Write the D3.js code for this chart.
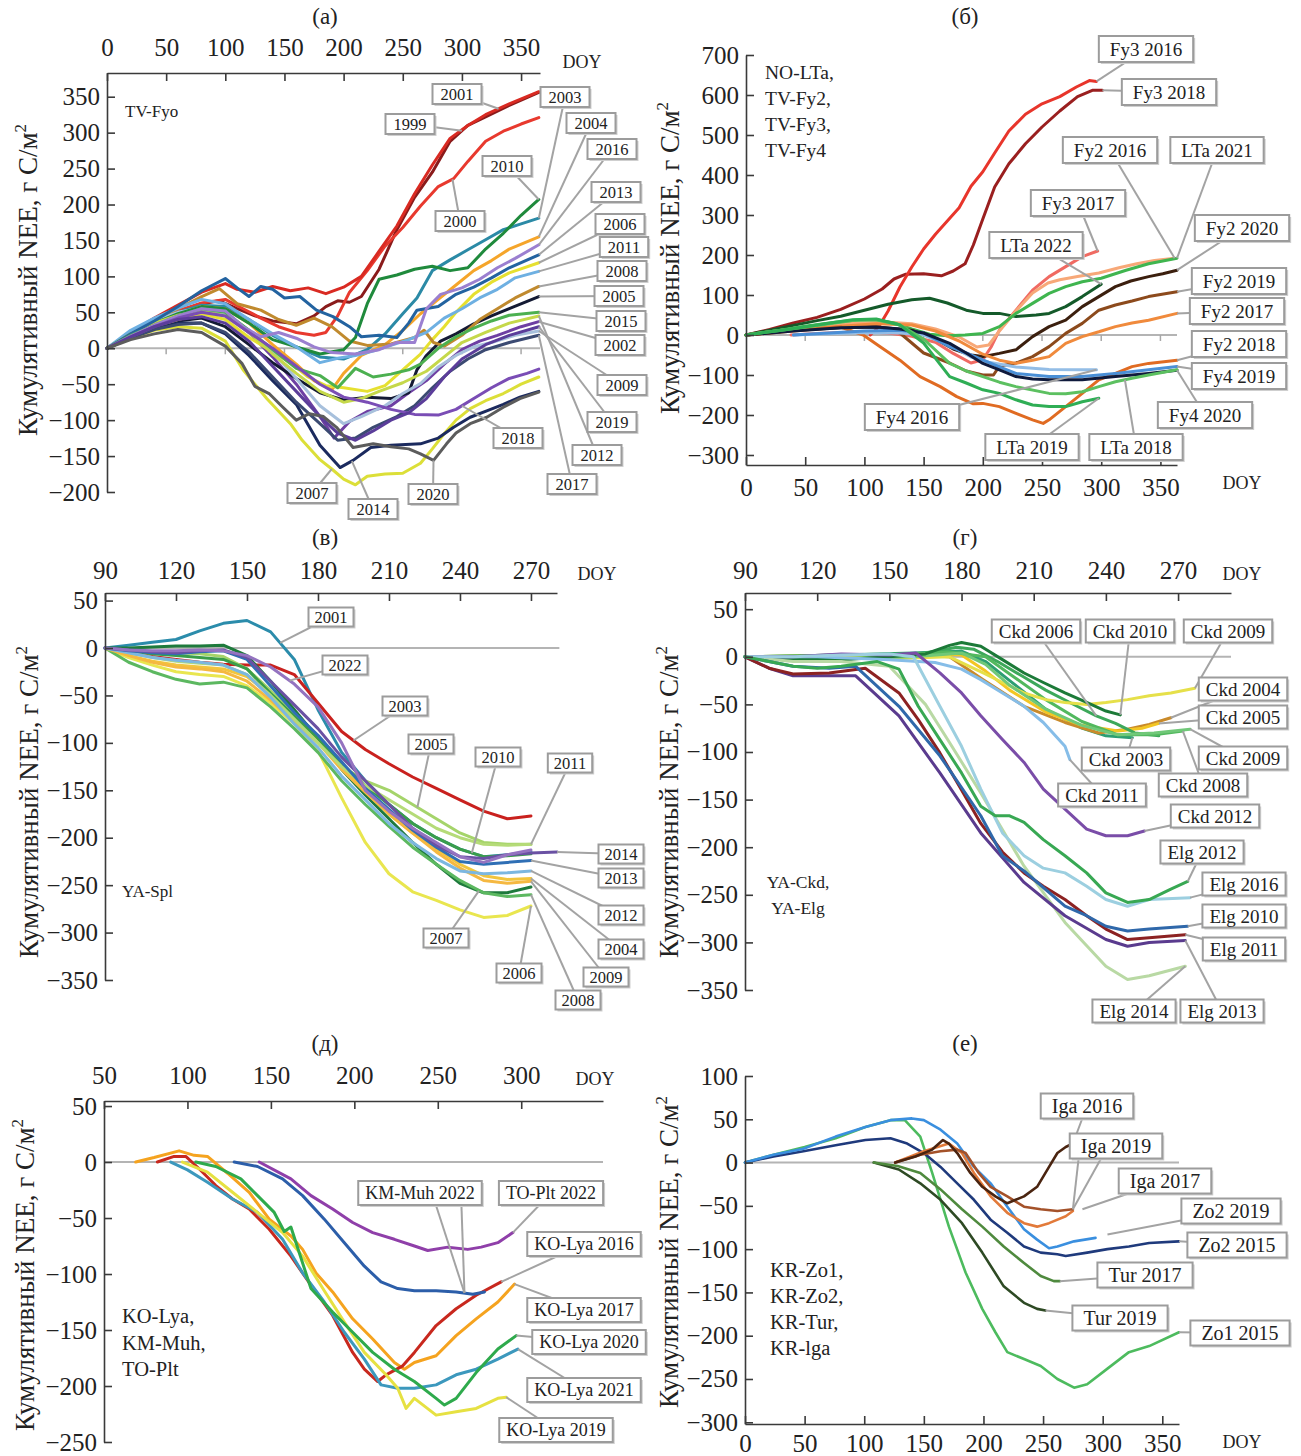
<!DOCTYPE html>
<html>
<head>
<meta charset="utf-8">
<script src="https://cdn.jsdelivr.net/npm/d3@7"></script>
<style>
  body { margin: 0; background: #fff; }
  text { font-family: "Liberation Serif", "Times New Roman", serif; fill: #222; }
</style>
</head>
<body>
<svg id="chart" width="1301" height="1456"></svg>
<script>
// ---------- (а) TV-Fyo : cumulative NEE by year, [DOY, g C/m2] ----------
const fyoYears = ['1999','2000','2001','2002','2003','2004','2005','2006','2007','2008','2009',
                  '2010','2011','2012','2013','2014','2015','2016','2017','2018','2019','2020'];
const fyoColors = ['#8a1b1b','#e8392e','#d92a22','#6e3fa3','#2b8aa6','#f5a52a','#141a33','#e6e030',
                   '#dcdf38','#c08a2e','#a7c0dc','#1f8a3c','#6eb0e2','#c5d84a','#2363a0','#1b2a5e',
                   '#4cb050','#9b7fd0','#3b4a72','#7a4db5','#5b3d9a','#5c5c5c'];
const fyoSeries = [
  [[0,0],[20,20],[40,38],[60,52],[80,62],[95,66],[110,55],[125,45],[140,38],[160,34],[175,45],[185,58],[195,66],[205,64],[215,72],[230,110],[245,165],[260,210],[275,245],[290,288],[305,310],[320,322],[340,338],[365,356]],
  [[0,0],[20,20],[40,37],[60,52],[80,63],[100,68],[115,55],[130,42],[145,30],[160,22],[175,18],[185,22],[195,45],[205,78],[220,108],[235,142],[250,168],[265,198],[280,225],[293,236],[305,260],[320,288],[335,302],[350,312],[365,321]],
  [[0,0],[20,22],[40,42],[60,60],[80,78],[100,90],[110,82],[125,78],[140,86],[155,80],[170,84],[185,76],[200,85],[215,100],[230,135],[245,170],[260,215],[275,255],[290,292],[305,310],[320,325],[340,340],[365,357]],
  [[0,0],[20,17],[40,32],[60,45],[80,55],[100,48],[120,22],[140,-12],[160,-50],[180,-95],[192,-125],[205,-102],[220,-88],[240,-80],[255,-62],[270,-45],[285,-22],[300,-2],[315,10],[330,18],[350,30],[365,37]],
  [[0,0],[20,20],[40,36],[60,50],[80,60],[100,58],[120,40],[140,18],[160,2],[180,-12],[200,-15],[220,-2],[235,20],[250,48],[262,70],[275,108],[290,123],[305,137],[320,151],[335,165],[350,173],[365,181]],
  [[0,0],[20,18],[40,34],[60,48],[80,58],[100,55],[120,35],[140,5],[160,-22],[175,-45],[190,-58],[200,-35],[215,-10],[235,5],[250,25],[265,48],[280,68],[295,88],[310,108],[325,122],[340,138],[365,155]],
  [[0,0],[20,15],[40,28],[60,38],[80,42],[100,30],[120,5],[140,-20],[160,-42],[180,-62],[200,-72],[220,-68],[240,-70],[255,-62],[262,-30],[270,-10],[282,10],[295,20],[310,34],[325,45],[340,55],[365,72]],
  [[0,0],[20,16],[40,30],[60,40],[80,48],[100,40],[120,15],[140,-5],[155,-20],[170,-40],[185,-52],[200,-55],[220,-60],[235,-52],[250,-30],[265,-8],[275,12],[285,30],[295,50],[310,75],[325,92],[340,105],[365,119]],
  [[0,0],[20,14],[40,25],[60,30],[80,28],[100,10],[115,-30],[135,-70],[155,-105],[165,-128],[180,-155],[190,-168],[200,-182],[210,-190],[220,-178],[235,-175],[250,-174],[265,-160],[275,-140],[285,-119],[295,-100],[307,-84],[320,-73],[335,-63],[350,-50],[365,-40]],
  [[0,0],[20,20],[40,38],[60,55],[80,72],[95,83],[110,62],[130,53],[145,40],[160,32],[175,42],[190,30],[205,10],[220,4],[240,6],[260,15],[268,25],[276,8],[285,3],[300,18],[315,40],[330,55],[345,70],[365,86]],
  [[0,0],[20,22],[40,38],[60,50],[80,56],[100,48],[120,25],[140,-5],[160,-42],[180,-80],[200,-105],[215,-95],[235,-80],[250,-63],[265,-49],[280,-26],[295,-10],[310,2],[325,8],[345,18],[365,24]],
  [[0,0],[20,18],[40,35],[60,48],[80,58],[100,55],[120,35],[140,12],[160,2],[180,-8],[200,-2],[210,15],[220,62],[230,96],[245,102],[260,110],[275,114],[290,108],[305,112],[320,138],[335,160],[350,185],[365,207]],
  [[0,0],[20,25],[40,42],[60,56],[80,68],[100,62],[120,40],[140,20],[160,2],[180,-20],[195,-14],[210,-10],[225,-4],[240,4],[255,12],[270,22],[285,42],[300,55],[315,70],[330,82],[345,98],[365,107]],
  [[0,0],[20,20],[40,35],[60,46],[80,52],[100,45],[120,22],[140,-8],[160,-35],[180,-60],[200,-75],[215,-70],[230,-60],[250,-48],[270,-32],[285,-12],[300,8],[320,22],[340,35],[365,45]],
  [[0,0],[20,20],[40,38],[60,58],[80,80],[100,97],[110,84],[120,72],[130,86],[140,82],[150,70],[163,72],[177,53],[191,44],[205,30],[215,16],[230,18],[245,15],[255,35],[262,53],[280,58],[295,75],[310,85],[325,98],[340,112],[365,130]],
  [[0,0],[20,15],[40,27],[60,35],[80,35],[100,20],[120,-10],[140,-45],[160,-78],[180,-135],[197,-166],[208,-156],[223,-138],[240,-135],[265,-133],[280,-125],[293,-110],[307,-96],[321,-87],[335,-78],[349,-68],[365,-60]],
  [[0,0],[20,18],[40,32],[60,45],[80,55],[100,50],[120,25],[140,-2],[160,-28],[180,-38],[195,-55],[210,-28],[225,-40],[240,-36],[255,-30],[265,-22],[280,0],[295,16],[310,28],[325,38],[340,46],[365,50]],
  [[0,0],[20,17],[40,32],[60,45],[80,55],[100,52],[115,30],[130,16],[145,22],[160,14],[175,2],[190,-6],[210,-8],[230,-2],[245,8],[260,8],[270,55],[282,75],[300,84],[315,96],[330,112],[345,125],[365,144]],
  [[0,0],[20,14],[40,26],[60,33],[80,35],[100,22],[120,-5],[140,-40],[160,-75],[180,-105],[195,-128],[210,-125],[225,-110],[245,-95],[260,-80],[275,-55],[290,-32],[305,-15],[320,-2],[340,8],[365,18]],
  [[0,0],[20,16],[40,30],[60,42],[80,50],[100,45],[120,22],[140,0],[160,-25],[180,-50],[200,-68],[220,-75],[240,-85],[260,-92],[280,-93],[295,-85],[310,-70],[325,-55],[340,-42],[355,-35],[365,-29]],
  [[0,0],[20,16],[40,30],[60,40],[80,44],[100,35],[120,10],[140,-25],[160,-60],[180,-95],[195,-118],[210,-128],[225,-115],[240,-100],[255,-90],[270,-70],[285,-40],[300,-15],[320,5],[340,18],[365,30]],
  [[0,0],[20,12],[40,20],[60,26],[80,22],[100,3],[114,-21],[125,-53],[137,-63],[148,-81],[160,-100],[171,-91],[183,-95],[194,-110],[208,-138],[225,-133],[240,-137],[255,-140],[265,-147],[276,-156],[287,-133],[295,-118],[307,-105],[321,-96],[335,-82],[349,-70],[365,-61]]
];

// ---------- (б) NO-LTa, TV-Fy2, TV-Fy3, TV-Fy4 ----------
const fyNames = ['Fy3 2018','Fy3 2016','Fy3 2017','LTa 2022','Fy2 2016','LTa 2021','Fy2 2020','Fy2 2019',
                 'Fy2 2017','Fy2 2018','Fy4 2016','Fy4 2019','Fy4 2020','LTa 2018','LTa 2019'];
const fyColors = ['#9a1f1f','#e8352b','#f06a62','#145a2a','#f7a878','#3fb54f','#3b1f0e','#8c4a1c',
                  '#f08a3c','#e06b22','#93bde6','#4a8fd6','#0f1a3c','#5cc060','#2fae55'];
const fySeries = [
  [[0,0],[20,14],[40,30],[60,44],[80,64],[100,90],[115,115],[125,140],[135,152],[150,153],[165,148],[175,160],[185,178],[192,225],[200,290],[210,370],[222,428],[236,478],[250,520],[265,560],[280,596],[293,612],[301,612]],
  [[105,0],[112,20],[120,60],[130,120],[140,170],[150,215],[160,252],[170,285],[180,318],[190,372],[200,408],[210,455],[222,510],[236,552],[250,578],[265,596],[279,620],[290,636],[296,634]],
  [[38,0],[60,4],[80,6],[100,8],[120,5],[140,-3],[160,-18],[175,-46],[190,-70],[200,-62],[207,-30],[214,12],[228,62],[242,112],[256,146],[270,171],[284,196],[297,210]],
  [[0,0],[20,12],[40,24],[60,36],[80,47],[100,62],[120,77],[140,88],[155,92],[170,80],[186,62],[200,54],[214,54],[228,46],[245,50],[256,54],[270,71],[284,96],[300,127]],
  [[0,0],[30,12],[60,22],[90,30],[120,32],[140,28],[160,15],[180,-5],[195,-30],[205,-25],[214,10],[228,60],[242,105],[255,130],[265,138],[280,146],[298,155],[315,168],[330,178],[345,186],[362,192]],
  [[0,0],[25,10],[50,22],[75,32],[95,38],[110,38],[125,30],[140,15],[155,2],[170,-2],[185,0],[200,4],[214,21],[228,54],[242,79],[256,104],[270,121],[284,133],[300,142],[321,162],[340,178],[364,192]],
  [[0,0],[40,12],[80,18],[110,20],[140,12],[160,-10],[175,-35],[190,-50],[200,-54],[214,-46],[228,-37],[242,-4],[256,21],[270,37],[284,71],[298,96],[312,121],[325,135],[340,146],[352,153],[364,162]],
  [[0,0],[40,12],[80,20],[110,22],[130,5],[150,-45],[172,-70],[186,-90],[200,-100],[209,-100],[214,-78],[228,-70],[242,-54],[256,-29],[270,4],[284,29],[298,62],[312,75],[326,85],[340,96],[364,108]],
  [[0,0],[40,12],[80,22],[110,28],[140,25],[160,10],[180,-15],[200,-48],[214,-63],[228,-71],[242,-63],[256,-54],[270,-21],[284,-4],[298,8],[312,21],[326,30],[340,37],[364,54]],
  [[0,0],[40,10],[80,20],[99,0],[113,-29],[130,-63],[147,-104],[164,-129],[178,-154],[192,-172],[200,-171],[214,-179],[228,-196],[242,-212],[251,-221],[256,-212],[270,-179],[284,-146],[298,-112],[312,-96],[326,-79],[340,-71],[364,-63]],
  [[40,0],[70,3],[100,6],[130,5],[150,0],[172,-25],[190,-55],[205,-68],[228,-80],[256,-86],[280,-87],[296,-87]],
  [[40,0],[70,5],[100,10],[130,12],[150,5],[172,-29],[186,-45],[200,-62],[214,-80],[228,-96],[256,-104],[284,-104],[312,-96],[340,-87],[364,-79]],
  [[0,0],[40,10],[80,18],[110,20],[130,15],[150,5],[172,-21],[186,-45],[200,-71],[214,-87],[228,-104],[242,-110],[256,-112],[284,-112],[312,-104],[340,-96],[364,-88]],
  [[0,0],[30,12],[60,24],[90,36],[110,38],[130,25],[150,-10],[172,-71],[186,-90],[200,-104],[214,-118],[228,-129],[256,-146],[270,-147],[284,-142],[298,-129],[312,-117],[326,-108],[340,-100],[364,-87]],
  [[0,0],[30,12],[60,25],[90,38],[110,40],[130,25],[150,-20],[172,-104],[186,-120],[200,-137],[214,-146],[228,-162],[242,-175],[256,-179],[270,-179],[284,-167],[298,-158]]
];

// ---------- (в) YA-Spl ----------
const splYears = ['2001','2003','2004','2005','2006','2007','2008','2009','2010','2011','2012','2013','2014','2022'];
const splColors = ['#2b8cab','#c9211e','#f2c53d','#a5d46a','#e9e64f','#1e7a3c','#5cb860','#f5b841',
                   '#3a9d4a','#b5db78','#7cb7e0','#2f6fb5','#6a51a3','#9473c0'];
const splDoy = [90,100,110,120,130,140,150,160,170,180,190,200,210,220,230,240,250,260,270];
const splNee = [
  [0,3,6,9,18,26,29,17,-12,-65,-110,-140,-165,-185,-200,-212,-220,-218,-215],
  [0,-5,-9,-12,-15,-17,-18,-18,-28,-58,-88,-107,-122,-136,-148,-160,-172,-180,-177],
  [0,-8,-14,-18,-20,-22,-30,-50,-72,-98,-125,-150,-175,-195,-212,-228,-240,-244,-243],
  [0,-2,-4,-5,-6,-9,-22,-45,-70,-95,-125,-140,-150,-165,-180,-195,-205,-207,-207],
  [0,-10,-18,-25,-28,-30,-40,-58,-80,-108,-158,-205,-238,-257,-266,-276,-284,-282,-272],
  [0,0,1,2,2,3,-8,-35,-65,-95,-128,-155,-180,-205,-228,-248,-258,-258,-252],
  [0,-15,-25,-33,-38,-36,-42,-62,-85,-110,-140,-165,-188,-210,-228,-245,-258,-262,-260],
  [0,-8,-15,-20,-22,-25,-35,-55,-78,-100,-128,-152,-175,-195,-215,-232,-245,-248,-246],
  [0,-3,-6,-8,-10,-12,-22,-48,-72,-95,-122,-145,-165,-185,-200,-212,-220,-219,-217],
  [0,-5,-10,-14,-16,-18,-28,-50,-75,-100,-125,-145,-160,-175,-190,-200,-207,-208,-207],
  [0,-5,-10,-13,-15,-18,-28,-52,-80,-105,-135,-160,-185,-205,-222,-235,-238,-237,-235],
  [0,-3,-5,-6,-4,-3,-12,-40,-68,-92,-120,-148,-170,-192,-210,-225,-228,-226,-224],
  [0,-2,-4,-5,-3,-2,-10,-35,-60,-85,-115,-140,-165,-190,-208,-220,-222,-218,-216],
  [0,-2,-3,-3,-2,-3,-8,-20,-38,-62,-100,-150,-172,-190,-205,-220,-226,-218,-213]
];
const splTail2014 = [281, -215];   // the 2014 record runs past DOY 270

// ---------- (г) YA-Ckd, YA-Elg ----------
const ckdNames = ['Ckd 2003','Ckd 2004','Ckd 2005','Ckd 2006','Ckd 2008','Ckd 2009','Ckd 2009','Ckd 2010',
                  'Ckd 2011','Ckd 2012','Elg 2014','Elg 2013','Elg 2011','Elg 2010','Elg 2016','Elg 2012'];
const ckdColors = ['#2d9e72','#c98a2a','#f3c623','#3da85a','#52b85e','#e6e04a','#70c878','#1c7a38',
                   '#86bde8','#7a4da8','#b9d9a4','#5a3b8e','#8c2222','#2f68aa','#9ccfe0','#38a853'];
const ckdSeries = [
  [[90,0],[130,2],[160,4],[180,6],[190,-5],[200,-25],[215,-55],[230,-75],[240,-83],[251,-85]],
  [[90,0],[130,0],[160,2],[175,0],[189,-24],[206,-52],[223,-69],[237,-80],[249,-76],[258,-71],[267,-64]],
  [[90,0],[140,2],[170,3],[180,2],[190,-15],[200,-35],[215,-58],[230,-72],[245,-78],[255,-75],[262,-70]],
  [[90,0],[110,-3],[130,0],[150,2],[165,4],[178,10],[185,8],[195,-5],[205,-20],[215,-35],[225,-48],[236,-62],[244,-70],[252,-80],[262,-83]],
  [[90,0],[130,2],[160,3],[175,5],[190,0],[200,-18],[215,-45],[230,-68],[245,-82],[260,-82],[272,-78]],
  [[90,0],[120,0],[150,-2],[175,0],[189,-17],[197,-27],[206,-38],[215,-45],[223,-48],[232,-50],[240,-48],[249,-45],[258,-41],[267,-38],[277,-33]],
  [[90,0],[130,-2],[160,0],[180,4],[190,-8],[200,-30],[215,-55],[230,-72],[245,-82],[260,-80],[275,-76]],
  [[90,0],[110,-2],[130,-3],[150,0],[165,3],[175,12],[180,15],[188,11],[197,-3],[206,-17],[214,-27],[223,-38],[232,-48],[240,-57],[246,-61]],
  [[90,0],[120,0],[150,-3],[169,-6],[180,-13],[188,-24],[197,-38],[206,-52],[214,-69],[223,-94],[225,-108]],
  [[90,0],[110,0],[130,3],[150,2],[161,4],[171,-17],[180,-38],[188,-62],[197,-87],[206,-111],[214,-139],[223,-160],[232,-181],[240,-188],[249,-188],[256,-183]],
  [[90,0],[110,-5],[130,-5],[150,-10],[165,-50],[175,-90],[188,-143],[206,-220],[223,-279],[240,-325],[249,-339],[258,-335],[273,-325]],
  [[90,0],[100,-12],[110,-20],[125,-20],[136,-20],[154,-62],[171,-122],[188,-185],[206,-237],[223,-272],[240,-297],[249,-304],[258,-300],[273,-298]],
  [[90,0],[100,-12],[110,-18],[125,-17],[140,-12],[154,-38],[162,-66],[171,-101],[180,-140],[188,-175],[197,-205],[206,-227],[214,-241],[223,-255],[232,-272],[240,-286],[249,-297],[258,-295],[273,-292]],
  [[90,0],[110,-10],[125,-12],[136,-10],[154,-52],[171,-104],[188,-167],[197,-209],[206,-225],[223,-262],[232,-272],[240,-283],[249,-288],[258,-286],[274,-283]],
  [[90,0],[110,0],[130,2],[150,3],[160,0],[171,-52],[180,-94],[188,-139],[197,-185],[206,-209],[214,-222],[223,-227],[232,-241],[240,-255],[249,-262],[258,-255],[275,-253]],
  [[90,0],[100,-5],[110,-10],[120,-12],[130,-10],[145,-5],[154,-13],[162,-52],[171,-87],[180,-122],[188,-157],[194,-167],[200,-167],[206,-174],[214,-192],[223,-209],[232,-227],[240,-248],[249,-258],[258,-255],[267,-244],[274,-236]]
];

// ---------- (д) KO-Lya, KM-Muh, TO-Plt ----------
const lyaNames = ['KO-Lya 2017','KO-Lya 2016','KO-Lya 2021','KO-Lya 2019','KO-Lya 2020','KM-Muh 2022','TO-Plt 2022'];
const lyaColors = ['#f5a31f','#c8281e','#3c98bd','#e6e142','#2eaa4c','#2c5ea9','#8f3fa9'];
const lyaSeries = [
  [[69,0],[80,4],[95,10],[104,6],[112,5],[124,-10],[137,-27],[149,-51],[162,-66],[169,-78],[177,-99],[187,-116],[199,-140],[211,-158],[224,-179],[230,-185],[236,-179],[249,-173],[261,-155],[273,-140],[286,-125],[296,-109]],
  [[82,0],[92,5],[99,5],[107,-6],[117,-21],[127,-33],[137,-42],[149,-60],[162,-84],[174,-110],[187,-137],[199,-170],[206,-185],[214,-196],[219,-190],[229,-182],[236,-170],[249,-146],[261,-131],[273,-119],[288,-107]],
  [[90,0],[100,-7],[112,-18],[127,-33],[142,-45],[157,-69],[169,-99],[182,-125],[194,-152],[206,-176],[216,-199],[226,-202],[236,-202],[249,-199],[261,-190],[273,-185],[286,-176],[298,-167]],
  [[97,0],[112,-9],[127,-27],[142,-45],[157,-63],[169,-84],[182,-115],[194,-143],[206,-170],[219,-190],[226,-202],[231,-220],[236,-211],[249,-226],[261,-223],[273,-220],[286,-211],[291,-210]],
  [[105,0],[117,-4],[132,-15],[142,-30],[152,-45],[158,-62],[162,-58],[167,-81],[174,-113],[187,-134],[199,-152],[211,-170],[224,-185],[236,-196],[249,-211],[254,-217],[261,-211],[273,-188],[286,-167],[297,-155]],
  [[128,0],[142,-4],[157,-15],[169,-30],[182,-51],[194,-72],[206,-93],[216,-107],[226,-113],[236,-115],[249,-115],[261,-116],[271,-118],[278,-116]],
  [[143,0],[162,-15],[174,-30],[187,-42],[199,-54],[211,-63],[224,-69],[236,-75],[244,-79],[256,-76],[268,-78],[276,-76],[286,-72],[295,-63]]
];

// ---------- (е) KR-Zo1, KR-Zo2, KR-Tur, KR-Iga ----------
const krNames = ['Zo1 2015','Zo2 2015','Zo2 2019','Tur 2019','Tur 2017','Iga 2017','Iga 2019','Iga 2016'];
const krColors = ['#4dbb5e','#1f3a7c','#3a8fdf','#2e4a24','#4f8a3e','#e27a3a','#a4522a','#4a2410'];
const krSeries = [
  [[0,0],[24,9],[50,18],[76,28],[101,41],[122,49],[134,49],[147,30],[157,-12],[171,-74],[185,-127],[199,-169],[210,-196],[220,-219],[234,-227],[248,-235],[262,-250],[276,-260],[287,-256],[304,-238],[322,-219],[339,-212],[364,-196]],
  [[0,0],[24,7],[49,13],[76,20],[101,26],[122,28],[136,22],[150,11],[164,-5],[178,-24],[192,-43],[206,-66],[220,-81],[234,-97],[248,-104],[262,-106],[269,-108],[287,-104],[304,-100],[322,-97],[339,-93],[364,-91]],
  [[0,0],[24,9],[49,16],[76,30],[101,41],[122,49],[140,51],[150,49],[164,38],[178,22],[192,-5],[206,-24],[220,-51],[234,-77],[245,-89],[255,-99],[262,-97],[276,-91],[294,-87]],
  [[108,0],[129,-8],[147,-24],[164,-43],[182,-70],[199,-104],[217,-143],[234,-162],[245,-169],[252,-171]],
  [[108,0],[128,-4],[147,-12],[164,-31],[182,-54],[199,-74],[217,-97],[234,-116],[248,-131],[259,-137],[264,-137]],
  [[126,0],[150,13],[171,22],[182,11],[192,-12],[206,-39],[220,-58],[234,-70],[245,-74],[255,-70],[269,-62],[275,-56]],
  [[126,0],[147,9],[164,13],[178,15],[185,11],[196,-12],[206,-28],[220,-39],[234,-51],[248,-54],[262,-56],[275,-54]],
  [[126,0],[143,7],[157,15],[166,26],[171,22],[178,11],[189,-12],[199,-28],[210,-39],[220,-47],[227,-43],[234,-39],[245,-28],[255,-5],[262,11],[269,18],[275,22]]
];

// ---------- callout boxes: label text, box centre (px), series and DOY the leader points at ----------
const fyoCallouts = [
  {t:'2001', c:[457,94],  s:'2001', d:331},
  {t:'1999', c:[410,124], s:'1999', d:300},
  {t:'2010', c:[507,166], s:'2010'},
  {t:'2000', c:[460,221], s:'2000', d:292},
  {t:'2003', c:[565,97],  s:'2003'},
  {t:'2004', c:[591,123], s:'2004'},
  {t:'2016', c:[612,149], s:'2016'},
  {t:'2013', c:[616,192], s:'2013'},
  {t:'2006', c:[620,224], s:'2006'},
  {t:'2011', c:[624,247], s:'2011'},
  {t:'2008', c:[622,271], s:'2008'},
  {t:'2005', c:[619,296], s:'2005'},
  {t:'2015', c:[621,321], s:'2015'},
  {t:'2002', c:[620,345], s:'2002'},
  {t:'2009', c:[622,385], s:'2009'},
  {t:'2019', c:[612,422], s:'2019'},
  {t:'2012', c:[597,455], s:'2012'},
  {t:'2017', c:[572,484], s:'2017'},
  {t:'2018', c:[518,438], s:'2018', d:300},
  {t:'2020', c:[433,494], s:'2020', d:276},
  {t:'2014', c:[373,509], s:'2014', d:207},
  {t:'2007', c:[312,493], s:'2007', d:190}
];
const fyCallouts = [
  {t:'Fy3 2016', c:[1146,49],  s:'Fy3 2016'},
  {t:'Fy3 2018', c:[1169,92],  s:'Fy3 2018'},
  {t:'Fy2 2016', c:[1110,150], s:'Fy2 2016'},
  {t:'LTa 2021', c:[1217,150], s:'LTa 2021'},
  {t:'Fy3 2017', c:[1078,203], s:'Fy3 2017'},
  {t:'LTa 2022', c:[1036,245], s:'LTa 2022'},
  {t:'Fy2 2020', c:[1242,228], s:'Fy2 2020'},
  {t:'Fy2 2019', c:[1239,281], s:'Fy2 2019'},
  {t:'Fy2 2017', c:[1237,311], s:'Fy2 2017'},
  {t:'Fy2 2018', c:[1239,344], s:'Fy2 2018'},
  {t:'Fy4 2019', c:[1239,376], s:'Fy4 2019'},
  {t:'Fy4 2020', c:[1205,415], s:'Fy4 2020'},
  {t:'Fy4 2016', c:[912,417],  s:'Fy4 2016'},
  {t:'LTa 2019', c:[1032,447], s:'LTa 2019'},
  {t:'LTa 2018', c:[1136,447], s:'LTa 2018', d:320}
];
const splCallouts = [
  {t:'2001', c:[331,617], s:'2001', d:164},
  {t:'2022', c:[345,665], s:'2022', d:168},
  {t:'2003', c:[405,706], s:'2003', d:195},
  {t:'2005', c:[431,744], s:'2005', d:222},
  {t:'2010', c:[498,757], s:'2010', d:245},
  {t:'2011', c:[570,763], s:'2011'},
  {t:'2014', c:[621,854], s:'2014'},
  {t:'2013', c:[621,878], s:'2013'},
  {t:'2012', c:[621,915], s:'2012'},
  {t:'2004', c:[621,949], s:'2004'},
  {t:'2009', c:[606,977], s:'2009'},
  {t:'2008', c:[578,1000], s:'2008'},
  {t:'2006', c:[519,973], s:'2006'},
  {t:'2007', c:[446,938], s:'2007', d:248}
];
const ckdCallouts = [
  {t:'Ckd 2006', c:[1036,631], s:'Ckd 2006', d:236},
  {t:'Ckd 2010', c:[1130,631], s:'Ckd 2010'},
  {t:'Ckd 2009', c:[1228,631], s:'Ckd 2009'},
  {t:'Ckd 2004', c:[1243,689], s:'Ckd 2004'},
  {t:'Ckd 2005', c:[1243,717], s:'Ckd 2005'},
  {t:'Ckd 2009', c:[1243,758], s:'Ckd 2009', n:1},
  {t:'Ckd 2003', c:[1126,759], s:'Ckd 2003'},
  {t:'Ckd 2008', c:[1203,785], s:'Ckd 2008'},
  {t:'Ckd 2011', c:[1102,795], s:'Ckd 2011'},
  {t:'Ckd 2012', c:[1215,816], s:'Ckd 2012'},
  {t:'Elg 2012', c:[1202,852], s:'Elg 2012'},
  {t:'Elg 2016', c:[1244,884], s:'Elg 2016'},
  {t:'Elg 2010', c:[1244,916], s:'Elg 2010'},
  {t:'Elg 2011', c:[1244,949], s:'Elg 2011'},
  {t:'Elg 2014', c:[1134,1011], s:'Elg 2014'},
  {t:'Elg 2013', c:[1222,1011], s:'Elg 2013'}
];
const lyaCallouts = [
  {t:'KM-Muh 2022', c:[420,1193], s:'KM-Muh 2022', d:266, from:[[12,0],[41,0]]},
  {t:'TO-Plt 2022', c:[551,1193], s:'TO-Plt 2022'},
  {t:'KO-Lya 2016', c:[584,1244], s:'KO-Lya 2016'},
  {t:'KO-Lya 2017', c:[584,1310], s:'KO-Lya 2017'},
  {t:'KO-Lya 2020', c:[589,1342], s:'KO-Lya 2020'},
  {t:'KO-Lya 2021', c:[584,1390], s:'KO-Lya 2021'},
  {t:'KO-Lya 2019', c:[556,1430], s:'KO-Lya 2019'}
];
const krCallouts = [
  {t:'Iga 2016', c:[1087,1106], s:'Iga 2016'},
  {t:'Iga 2019', c:[1116,1146], s:'Iga 2019', from:[[-36,0],[-8,0]]},
  {t:'Iga 2017', c:[1165,1181], s:'Iga 2017', p:[283,-54]},
  {t:'Zo2 2019', c:[1231,1211], s:'Zo2 2019', p:[304,-83]},
  {t:'Zo2 2015', c:[1237,1245], s:'Zo2 2015'},
  {t:'Tur 2017', c:[1145,1275], s:'Tur 2017'},
  {t:'Tur 2019', c:[1120,1318], s:'Tur 2019'},
  {t:'Zo1 2015', c:[1240,1333], s:'Zo1 2015'}
];

// ---------- drawing ----------
const svg = d3.select('#chart');
const FONT = '"Liberation Serif", "Times New Roman", serif';

function valueAt(pts, doy) {
  if (doy == null) return pts[pts.length - 1];
  for (let i = 1; i < pts.length; i++) {
    if (pts[i][0] >= doy) {
      const a = pts[i - 1], b = pts[i];
      const k = (doy - a[0]) / (b[0] - a[0]);
      return [doy, a[1] + k * (b[1] - a[1])];
    }
  }
  return pts[pts.length - 1];
}

function drawPanel(P) {
  const g = svg.append('g');
  const x = d3.scaleLinear().domain(P.xDomain).range([P.left, P.right]);
  const y = d3.scaleLinear().domain(P.yDomain).range([P.bottom, P.top]);

  // zero reference line
  g.append('line')
    .attr('x1', P.left).attr('x2', x(P.zeroTo))
    .attr('y1', y(0)).attr('y2', y(0))
    .attr('stroke', '#b4b4b4').attr('stroke-width', 2);
  if (P.zeroTicks) {
    P.xTicks.filter(t => t > P.xDomain[0] && t <= P.zeroTo).forEach(t => {
      g.append('line').attr('x1', x(t)).attr('x2', x(t))
        .attr('y1', y(0)).attr('y2', y(0) + 6)
        .attr('stroke', '#a8a8a8').attr('stroke-width', 1.5);
    });
  }

  // series
  const line = d3.line().x(d => x(d[0])).y(d => y(d[1]));
  g.append('g').selectAll('path')
    .data(P.series)
    .join('path')
    .attr('d', line)
    .attr('fill', 'none')
    .attr('stroke', (d, i) => P.colors[i])
    .attr('stroke-width', P.lw)
    .attr('stroke-linejoin', 'round')
    .attr('stroke-linecap', 'round');

  // axes
  const xAxis = (P.xSide === 'top' ? d3.axisTop(x) : d3.axisBottom(x))
    .tickValues(P.xTicks).tickSizeInner(-8).tickSizeOuter(0).tickPadding(P.xPad);
  const gx = g.append('g')
    .attr('transform', `translate(0,${P.xSide === 'top' ? P.top : P.bottom})`)
    .call(xAxis);
  const yAxis = d3.axisLeft(y).tickValues(P.yTicks).tickSizeInner(-8).tickSizeOuter(0).tickPadding(7);
  const gy = g.append('g').attr('transform', `translate(${P.left},0)`).call(yAxis);
  [gx, gy].forEach(a => {
    a.selectAll('path, line').attr('stroke', '#3a3a3a').attr('stroke-width', 1.6);
    a.selectAll('text').attr('font-size', 25).attr('font-family', FONT).attr('fill', '#222');
  });

  // axis unit
  g.append('text').attr('x', P.doy[0]).attr('y', P.doy[1])
    .attr('font-size', 18).attr('text-anchor', 'middle').text('DOY');

  // y title
  const tt = g.append('text')
    .attr('transform', `translate(${P.title[0]},${P.title[1]}) rotate(-90)`)
    .attr('text-anchor', 'middle').attr('font-size', 27);
  tt.append('tspan').text('Кумулятивный NEE, г С/м');
  tt.append('tspan').text('2').attr('font-size', 17).attr('dy', -11);

  // panel letter
  g.append('text').attr('x', P.letter[0]).attr('y', P.letter[1])
    .attr('text-anchor', 'middle').attr('font-size', 23).text(P.letter[2]);

  // site names
  P.sites.lines.forEach((s, i) => {
    g.append('text').attr('x', P.sites.x).attr('y', P.sites.y + i * P.sites.dy)
      .attr('font-size', P.sites.fs).attr('text-anchor', P.sites.anchor || 'start').text(s);
  });

  // callouts
  const leadG = g.append('g');
  const boxG = g.append('g');
  P.callouts.forEach(c => {
    const matches = P.names.map((n, i) => n === c.s ? i : -1).filter(i => i >= 0);
    const si = matches[c.n || 0];
    const pt = c.p ? c.p : valueAt(P.series[si], c.d);
    const tx = x(pt[0]), ty = y(pt[1]);
    const starts = c.from ? c.from : [[0, 0]];
    starts.forEach(o => {
      leadG.append('line')
        .attr('x1', c.c[0] + o[0]).attr('y1', c.c[1] + o[1])
        .attr('x2', tx).attr('y2', ty)
        .attr('stroke', '#a3a3a3').attr('stroke-width', 2);
    });
    const b = boxG.append('g');
    const shadow = b.append('rect');
    const rect = b.append('rect');
    const text = b.append('text')
      .attr('x', c.c[0]).attr('y', c.c[1]).attr('dy', '0.35em')
      .attr('text-anchor', 'middle').attr('font-size', P.box.fs).text(c.t);
    const w = text.node().getComputedTextLength() + 2 * P.box.pad;
    const h = P.box.h;
    shadow.attr('x', c.c[0] - w / 2 + 2).attr('y', c.c[1] - h / 2 + 2)
      .attr('width', w).attr('height', h).attr('fill', '#cfcfcf');
    rect.attr('x', c.c[0] - w / 2).attr('y', c.c[1] - h / 2)
      .attr('width', w).attr('height', h)
      .attr('fill', '#fff').attr('stroke', '#9c9c9c').attr('stroke-width', 2);
  });
}

const tickRange = (a, b, s) => d3.range(a, b + s / 2, s);

drawPanel({
  names: fyoYears, series: fyoSeries, colors: fyoColors, lw: 3,
  xDomain: [0, 366], yDomain: [-200, 383], left: 107, right: 540, top: 73, bottom: 492,
  xSide: 'top', xPad: 17, xTicks: tickRange(0, 350, 50), yTicks: tickRange(-200, 350, 50),
  zeroTo: 366, zeroTicks: true,
  doy: [582, 68], title: [37, 280], letter: [325, 24, '(а)'],
  sites: {lines: ['TV-Fyo'], x: 125, y: 117, dy: 0, fs: 17},
  box: {fs: 16.5, pad: 8, h: 20}, callouts: fyoCallouts
});

drawPanel({
  names: fyNames, series: fySeries, colors: fyColors, lw: 3,
  xDomain: [0, 364], yDomain: [-325, 700], left: 746, right: 1177, top: 55, bottom: 465,
  xSide: 'bottom', xPad: 13, xTicks: tickRange(0, 350, 50), yTicks: tickRange(-300, 700, 100),
  zeroTo: 364, zeroTicks: true,
  doy: [1242, 489], title: [679, 258], letter: [965, 24, '(б)'],
  sites: {lines: ['NO-LTa,', 'TV-Fy2,', 'TV-Fy3,', 'TV-Fy4'], x: 765, y: 79, dy: 26, fs: 19.5},
  box: {fs: 19, pad: 11, h: 26}, callouts: fyCallouts
});

// (в) series: shared DOY grid, 2014 extended by one more point
const splSeries = splNee.map((row, i) => {
  const pts = splDoy.map((d, j) => [d, row[j]]);
  if (splYears[i] === '2014') pts.push(splTail2014);
  return pts;
});
drawPanel({
  names: splYears, series: splSeries, colors: splColors, lw: 3,
  xDomain: [90, 281], yDomain: [-350, 58], left: 105, right: 557, top: 593, bottom: 980,
  xSide: 'top', xPad: 14, xTicks: tickRange(90, 270, 30), yTicks: tickRange(-350, 50, 50),
  zeroTo: 282,
  doy: [597, 580], title: [38, 802], letter: [325, 545, '(в)'],
  sites: {lines: ['YA-Spl'], x: 122, y: 897, dy: 0, fs: 17},
  box: {fs: 16.5, pad: 6, h: 19}, callouts: splCallouts
});

drawPanel({
  names: ckdNames, series: ckdSeries, colors: ckdColors, lw: 3,
  xDomain: [90, 292], yDomain: [-350, 67], left: 745, right: 1231, top: 593, bottom: 990,
  xSide: 'top', xPad: 14, xTicks: tickRange(90, 270, 30), yTicks: tickRange(-350, 50, 50),
  zeroTo: 292,
  doy: [1242, 580], title: [678, 802], letter: [965, 545, '(г)'],
  sites: {lines: ['YA-Ckd,', 'YA-Elg'], x: 798, y: 888, dy: 26, fs: 17.5, anchor: 'middle'},
  box: {fs: 19, pad: 7, h: 23}, callouts: ckdCallouts
});

drawPanel({
  names: lyaNames, series: lyaSeries, colors: lyaColors, lw: 3,
  xDomain: [50, 349], yDomain: [-250, 54.5], left: 104, right: 603, top: 1101, bottom: 1442,
  xSide: 'top', xPad: 17, xTicks: tickRange(50, 300, 50), yTicks: tickRange(-250, 50, 50),
  zeroTo: 349,
  doy: [595, 1085], title: [34, 1275], letter: [325, 1051, '(д)'],
  sites: {lines: ['KO-Lya,', 'KM-Muh,', 'TO-Plt'], x: 122, y: 1323, dy: 26.5, fs: 20.5},
  box: {fs: 18, pad: 7, h: 24}, callouts: lyaCallouts
});

drawPanel({
  names: krNames, series: krSeries, colors: krColors, lw: 2.6,
  xDomain: [0, 364], yDomain: [-302, 100], left: 745, right: 1179, top: 1076, bottom: 1424,
  xSide: 'bottom', xPad: 10, xTicks: tickRange(0, 350, 50), yTicks: tickRange(-300, 100, 50),
  zeroTo: 364,
  doy: [1242, 1448], title: [678, 1252], letter: [965, 1051, '(е)'],
  sites: {lines: ['KR-Zo1,', 'KR-Zo2,', 'KR-Tur,', 'KR-lga'], x: 770, y: 1277, dy: 26, fs: 20.5},
  box: {fs: 20, pad: 11, h: 25}, callouts: krCallouts
});
</script>
</body>
</html>
